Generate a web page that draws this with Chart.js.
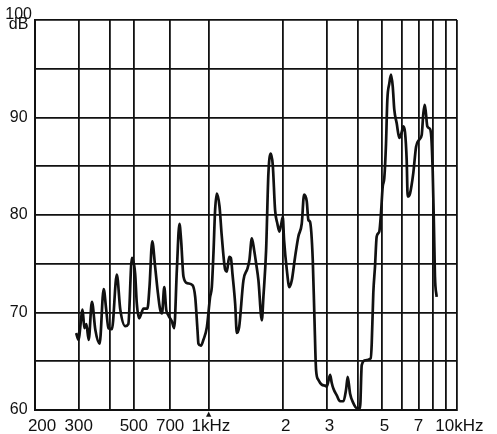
<!DOCTYPE html>
<html>
<head>
<meta charset="utf-8">
<script src="https://cdn.jsdelivr.net/npm/chart.js@4.4.0/dist/chart.umd.min.js"></script>
<style>
  html, body { margin: 0; padding: 0; background: #fff; }
  #wrap { width: 497px; height: 434px; }
</style>
</head>
<body>
<div id="wrap"><canvas id="c" width="497" height="434"></canvas></div>
<script>
// Frequency (Hz)
const freqs = [293, 299, 311, 316, 322, 329, 339, 350, 364, 378, 387, 395, 408, 427, 441, 462, 475, 491, 506, 514,
  525, 547, 567, 578, 593, 609, 623, 638, 649, 663, 675, 689, 711, 727, 745, 763, 775, 792, 822, 861,
  883, 902, 910, 931, 953, 984, 1014, 1030, 1046, 1062, 1079, 1106, 1130, 1166, 1184, 1210, 1229, 1247, 1279, 1299,
  1327, 1381, 1433, 1460, 1493, 1525, 1554, 1587, 1638, 1662, 1704, 1741, 1780, 1813, 1852, 1892, 1927, 1958, 1989, 2013,
  2064, 2114, 2162, 2229, 2298, 2371, 2423, 2484, 2521, 2560, 2626, 2666, 2708, 2766, 2854, 2944, 2991, 3084, 3130, 3178,
  3281, 3382, 3489, 3576, 3631, 3710, 3825, 3947, 4070, 4135, 4263, 4493, 4536, 4603, 4676, 4750, 4866, 4943, 5022, 5097,
  5178, 5242, 5340, 5424, 5511, 5592, 5718, 5858, 5990, 6079, 6175, 6273, 6331, 6468, 6668, 6844, 7032, 7209, 7318, 7413,
  7500, 7593, 7734, 7856, 7981, 8077, 8152, 8282];
// Level (dB)
const levels = [67.9, 67.2, 70.3, 68.4, 68.8, 67.2, 71.1, 68.2, 66.8, 72.4, 70.3, 68.4, 68.3, 73.9, 70.3, 68.6, 68.8, 75.6, 74.0, 70.9,
  69.4, 70.4, 70.4, 72.6, 77.3, 74.7, 72.3, 70.3, 69.9, 72.6, 70.3, 69.7, 69.1, 68.4, 74.4, 79.1, 77.4, 73.7, 73.0, 72.8,
  71.6, 68.2, 66.8, 66.6, 67.2, 68.5, 71.6, 72.6, 76.1, 80.5, 82.2, 80.9, 77.8, 74.4, 74.2, 75.7, 75.6, 74.0, 70.9, 67.9,
  68.5, 73.3, 74.5, 75.4, 77.6, 76.4, 75.0, 73.3, 69.2, 71.6, 76.4, 84.3, 86.3, 85.1, 80.5, 79.1, 78.3, 79.0, 79.8, 77.4,
  74.4, 72.6, 73.3, 75.7, 77.8, 79.1, 82.1, 81.4, 79.5, 79.3, 75.4, 69.6, 64.1, 63.1, 62.6, 62.5, 62.4, 63.6, 62.8, 62.2,
  61.5, 60.9, 60.9, 62.1, 63.4, 61.7, 60.7, 60.2, 60.2, 64.6, 65.1, 65.3, 66.8, 72.0, 74.7, 77.8, 78.3, 80.2, 82.9, 83.8,
  87.3, 91.8, 93.5, 94.4, 93.2, 90.8, 89.4, 87.9, 88.5, 89.1, 88.5, 85.6, 81.9, 82.2, 84.3, 87.0, 87.7, 88.2, 90.4, 91.3,
  90.4, 89.1, 88.9, 88.4, 84.6, 78.8, 73.7, 71.6];

// Axis ticks
const xTickValues = [200, 300, 400, 500, 700, 1000, 2000, 3000, 4000, 5000, 6000, 7000, 8000, 9000, 10000];
const xTickLabels = ['\u00a0\u00a0\u00a0200', '300', '', '500', '700', '\u00a01kHz', '\u00a02', '\u00a03', '', '\u00a05', '', '7', '', '', '\u00a010kHz'];
const yTickValues = [60, 65, 70, 75, 80, 85, 90, 95, 100];
const yTickLabels = ['60', '', '70', '', '80', '', '90', '', ['100', 'dB']];

const points = freqs.map((f, i) => ({ x: f, y: levels[i] }));

const markerPlugin = {
  id: 'marker',
  afterDraw(chart) {
    const ctx = chart.ctx;
    const xs = chart.scales.x;
    const px = xs.getPixelForValue(1000);
    ctx.save();
    ctx.fillStyle = '#111';
    ctx.font = '7px "DejaVu Sans"';
    ctx.textAlign = 'center';
    ctx.textBaseline = 'middle';
    ctx.fillText('▲', px, chart.chartArea.bottom + 4);
    ctx.restore();
  }
};

new Chart(document.getElementById('c'), {
  type: 'line',
  data: {
    datasets: [{
      data: points,
      borderColor: '#111',
      borderWidth: 2.7,
      pointRadius: 0,
      fill: false,
      cubicInterpolationMode: 'monotone'
    }]
  },
  options: {
    responsive: false,
    devicePixelRatio: 1,
    animation: false,
    layout: { padding: { left: 0, right: 40, top: 20, bottom: 0 } },
    plugins: { legend: { display: false }, tooltip: { enabled: false } },
    scales: {
      x: {
        type: 'logarithmic',
        min: 200,
        max: 10000,
        afterBuildTicks: (s) => { s.ticks = xTickValues.map(v => ({ value: v })); },
        afterFit: (s) => { s.height = 24; },
        grid: { color: '#111', lineWidth: 1.8, drawTicks: false },
        border: { color: '#111', width: 2 },
        ticks: {
          autoSkip: false,
          maxRotation: 0,
          padding: 6,
          color: '#111',
          font: { family: '"Liberation Sans"', size: 17 },
          callback: (v) => { const i = xTickValues.indexOf(v); return i >= 0 ? xTickLabels[i] : ''; }
        }
      },
      y: {
        min: 60,
        max: 100,
        afterBuildTicks: (s) => { s.ticks = yTickValues.map(v => ({ value: v })); },
        afterFit: (s) => { s.width = 35; },
        grid: { color: '#111', lineWidth: 1.8, drawTicks: false },
        border: { color: '#111', width: 2 },
        ticks: {
          autoSkip: false,
          padding: 3,
          crossAlign: 'center',
          color: '#111',
          font: { family: '"Liberation Sans"', size: 16, lineHeight: 0.62 },
          callback: (v) => { const i = yTickValues.indexOf(v); return i >= 0 ? yTickLabels[i] : ''; }
        }
      }
    }
  },
  plugins: [markerPlugin]
});
</script>
</body>
</html>
